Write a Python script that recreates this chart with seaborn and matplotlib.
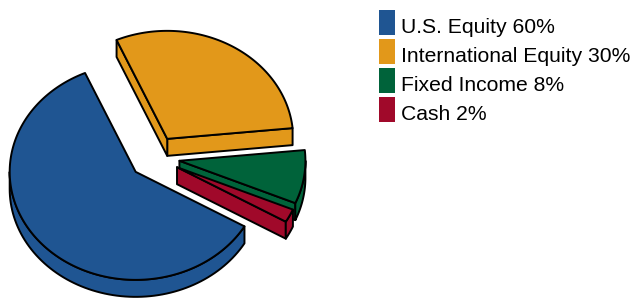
import numpy as np
import matplotlib
matplotlib.use("Agg")
import matplotlib.pyplot as plt
from matplotlib.patches import Polygon, Rectangle
import seaborn as sns

# ---- data ----
categories = ["U.S. Equity", "International Equity", "Fixed Income", "Cash"]
shares = [60, 30, 8, 2]
colors = ["#1F5592", "#E2981A", "#00633A", "#A0092A"]

sns.set_theme(style="white")
plt.rcParams["font.family"] = ["Liberation Sans", "DejaVu Sans"]
palette = sns.color_palette(colors)

# ---- layout (pixel space) ----
W, H = 631, 301
fig = plt.figure(figsize=(W / 100, H / 100), dpi=100)
ax = fig.add_axes([0, 0, 1, 1])
ax.set_xlim(0, W)
ax.set_ylim(H, 0)
ax.axis("off")

cx, cy = 154.5, 157.5      # pie centre
rx, ry = 126.0, 108.0      # ellipse radii of the tilted pie
depth = 17.0               # thickness
explode = 0.2              # fraction of radius
start = 329.7              # start angle (deg), clockwise order
lw = 1.4

total = float(sum(shares))
slices = []
a = start
for cat, v, col in zip(categories, shares, palette):
    span = 360.0 * v / total
    t2 = a
    t1 = a - span
    slices.append((t1, t2, col))
    a = t1


def rim(ox, oy, t, dz=0.0):
    r = np.radians(t)
    return np.column_stack([ox + rx * np.cos(r), oy - ry * np.sin(r) + dz])


order = sorted(range(len(slices)),
               key=lambda i: -np.sin(np.radians((slices[i][0] + slices[i][1]) / 2)))

for i in order:
    t1, t2, col = slices[i]
    m = np.radians((t1 + t2) / 2)
    ox = cx + explode * rx * np.cos(m)
    oy = cy - explode * ry * np.sin(m)
    kw = dict(facecolor=col, edgecolor="black", linewidth=lw, joinstyle="round")

    # radial walls
    for t, visible in ((t1, np.cos(np.radians(t1)) > 0), (t2, np.cos(np.radians(t2)) < 0)):
        if visible:
            p = rim(ox, oy, np.array([t]))[0]
            quad = np.array([[ox, oy], p, [p[0], p[1] + depth], [ox, oy + depth]])
            ax.add_patch(Polygon(quad, closed=True, **kw))

    # outer curved wall (front half only)
    for k in (-1, 0, 1):
        lo = max(t1, 180 + 360 * k)
        hi = min(t2, 360 + 360 * k)
        if hi > lo:
            ts = np.linspace(lo, hi, 80)
            top = rim(ox, oy, ts)
            bot = rim(ox, oy, ts[::-1], depth)
            ax.add_patch(Polygon(np.vstack([top, bot]), closed=True, **kw))

    # top face
    ts = np.linspace(t1, t2, 160)
    pts = np.vstack([[ox, oy], rim(ox, oy, ts)])
    ax.add_patch(Polygon(pts, closed=True, **kw))

# ---- legend ----
lx, ly0, step = 379, 10, 29
for j, (cat, v, col) in enumerate(zip(categories, shares, palette)):
    y = ly0 + j * step
    ax.add_patch(Rectangle((lx, y), 16, 25, facecolor=col, edgecolor="none"))
    ax.text(lx + 22, y + 23, f"{cat} {v}%", fontsize=15.2, color="black",
            va="baseline", ha="left")

fig.savefig("out.png", dpi=100)
